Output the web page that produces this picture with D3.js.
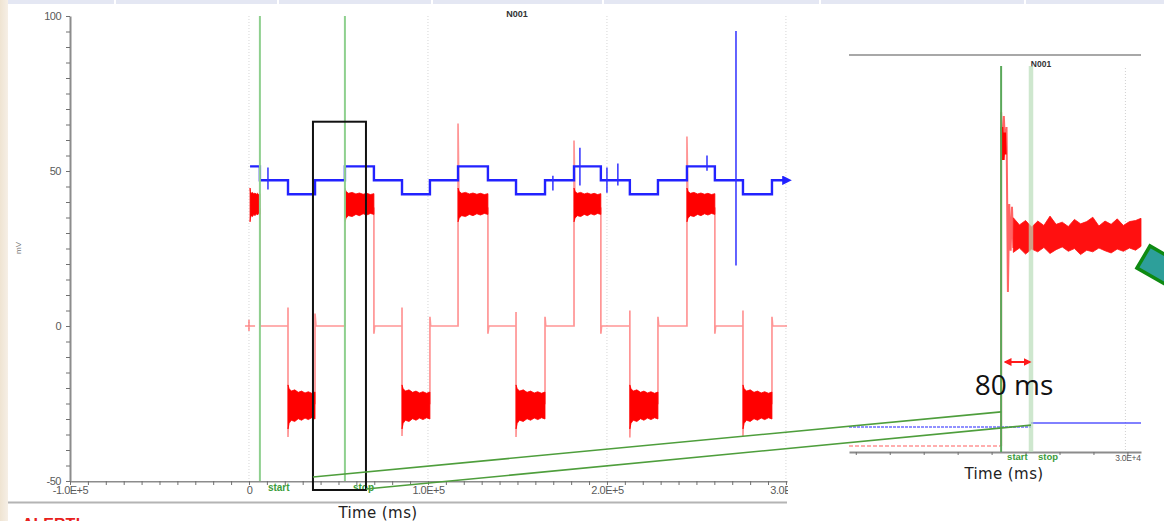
<!DOCTYPE html>
<html>
<head>
<meta charset="utf-8">
<script src="https://cdn.jsdelivr.net/npm/d3@7"></script>
<style>
  html, body { margin: 0; padding: 0; background: #fff; }
  svg { display: block; }
</style>
</head>
<body>
<svg id="chart" width="1164" height="521"></svg>
<script>
// ---------------- data ----------------
// main record: time axis (ms) and voltage axis (mV)
const xMinorTicks = d3.range(-100000, 300001, 10000);
const xMajorTicks = [-100000, 0, 100000, 200000, 300000];
const xTickLabels = ["-1.0E+5", "0", "1.0E+5", "2.0E+5", "3.0E+5"];
const yMinorTicks = d3.range(-50, 101, 5);
const yMajorTicks = [-50, 0, 50, 100];
const yTickLabels = ["-50", "0", "50", "100"];

// command channel (blue): step onsets [time ms, mV]
const blueSteps = [
  [600, 51.5], [6100, 47], [21800, 42.5], [36900, 47], [53600, 51.5],
  [69800, 47], [85500, 42.5], [101100, 47], [116800, 51.5], [133500, 47],
  [149200, 42.5], [165400, 47], [181600, 51.5], [196600, 47], [212800, 42.5],
  [228500, 47], [244700, 51.5], [260300, 47], [276000, 42.5], [292200, 47],
  [300600, 47]
];
// short artefacts on the command channel [time ms, low mV, high mV]
const blueSpikes = [
  [10600, 44.0, 51.1], [169800, 43.7, 48.5], [184900, 45.3, 57.5],
  [200000, 43.0, 51.1], [206100, 45.3, 52.4], [255900, 50.1, 55.0],
  [272100, 19.5, 95.2]
];

// response channel (red): transitions with overshoots [time ms, mV]
const redTrace = [
  [6100, 38], [6100, 0], [21800, 0], [21800, 6], [21800, -35.8], [22300, -25],
  [36900, -25], [36900, 4], [37400, 0], [53600, 0], [53600, 44], [54100, 39],
  [69800, 38], [69800, -2.5], [70200, 0], [85500, 0], [85500, 6], [85500, -35.5], [86000, -25],
  [101100, -25], [101100, 3], [101500, 0], [116800, 0], [116800, 65.3], [117300, 40],
  [133500, 38], [133500, -2.5], [134000, 0], [149200, 0], [149200, 4.5], [149200, -35.8], [149700, -25],
  [165400, -25], [165400, 3], [165800, 0], [181600, 0], [181600, 59.8], [182100, 40],
  [196600, 38], [196600, -2.5], [197000, 0], [212800, 0], [212800, 5], [212800, -36], [213300, -25],
  [228500, -25], [228500, 3], [228900, 0], [244700, 0], [244700, 61.1], [245200, 40],
  [260300, 38], [260300, -2.5], [260700, 0], [276000, 0], [276000, 5], [276000, -35.5], [276500, -25],
  [292200, -25], [292200, 3], [292600, 0], [300600, 0]
];
// noisy plateaus [start ms, end ms]
const plusBlocks = [[600, 6100], [53600, 69800], [116800, 133500], [181600, 196600], [244700, 260300]];
const minusBlocks = [[21800, 36900], [85500, 101100], [149200, 165400], [212800, 228500], [276000, 292200]];
// envelope of the noise across a plateau (fraction of plateau, upper mV, lower mV)
const blockFrac = [0, 0.04, 0.12, 0.25, 0.38, 0.5, 0.63, 0.75, 0.88, 1];
const plusHi  = [44.5, 43.4, 42.8, 43.1, 42.6, 42.9, 42.5, 42.8, 42.4, 42.7];
const plusLo  = [33.6, 34.8, 35.6, 35.3, 36.0, 35.6, 36.2, 35.8, 36.3, 36.0];
const minusHi = [-19.0, -20.2, -21.0, -20.6, -21.4, -21.0, -21.6, -21.2, -21.7, -21.3];
const minusLo = [-33.2, -31.4, -30.4, -30.8, -29.9, -30.4, -29.7, -30.2, -29.6, -30.0];

// cursors
const cursors = [{ t: 6100, label: "start" }, { t: 53600, label: "stop" }];
// zoom window drawn on the main record [t0, t1, vTop, vBottom]
const zoomWindow = [35750, 65360, 65.9, -52.9];

// zoomed record
const insetTicks = d3.range(-10000, 30001, 5000);
const insetCursors = [{ t: 11400, label: "start" }, { t: 15800, label: "stop" }];
const insetRedBefore = [[-11000, 0], [11400, 0]];
const insetRedOnset = [
  [11400, 0], [11400, 60.7], [11600, 52], [11800, 60], [12000, 54], [12200, 58],
  [12400, 28], [12600, 44], [12800, 35.5], [13000, 43.5], [13200, 36]
];
const insetBandT  = [13200, 14100, 15000, 15900, 16800, 17700, 18600, 19500, 20400, 21300, 22200,
                     23100, 24000, 24900, 25800, 26700, 27600, 28500, 29400, 30300, 31200, 32000];
const insetBandHi = [41.5, 40.2, 41.0, 39.8, 40.9, 40.1, 41.8, 40.3, 40.7, 39.9, 41.2,
                     40.4, 40.8, 41.6, 40.0, 40.9, 40.3, 41.3, 40.1, 40.8, 41.0, 41.4];
const insetBandLo = [35.2, 36.0, 34.9, 35.8, 35.3, 36.1, 35.0, 35.7, 36.2, 35.4, 35.9,
                     34.8, 35.6, 35.3, 36.0, 35.5, 35.1, 35.8, 35.4, 36.0, 35.6, 36.3];
const insetBlueBefore = [[-11000, 47], [15800, 47]];
const insetBlueAfter  = [[15800, 51.5], [32000, 51.5]];

// ---------------- drawing ----------------
const svg = d3.select("#chart");
const W = 1164, H = 521;

const defs = svg.append("defs");
defs.append("clipPath").attr("id", "xaxisClip")
  .append("rect").attr("x", 0).attr("y", 0).attr("width", 788).attr("height", H);
defs.append("linearGradient").attr("id", "paper").attr("x1", 0).attr("x2", 1)
  .selectAll("stop").data([["0%", "#efe4d2"], ["100%", "#f6efe6"]]).join("stop")
  .attr("offset", d => d[0]).attr("stop-color", d => d[1]);
defs.append("marker").attr("id", "arrowBlue").attr("viewBox", "0 0 10 10")
  .attr("refX", 5).attr("refY", 5).attr("markerWidth", 4).attr("markerHeight", 4).attr("orient", "auto")
  .append("path").attr("d", "M0,0L10,5L0,10z").attr("fill", "#2020ff");
["Start", "End"].forEach(k => {
  defs.append("marker").attr("id", "arrowRed" + k).attr("viewBox", "0 0 10 10")
    .attr("refX", 8).attr("refY", 5).attr("markerWidth", 4).attr("markerHeight", 4)
    .attr("orient", k === "Start" ? "auto-start-reverse" : "auto")
    .append("path").attr("d", "M0,0L10,5L0,10z").attr("fill", "#ff1a1a");
});

// page frame
svg.append("rect").attr("width", W).attr("height", H).attr("fill", "#fff");
svg.append("rect").attr("x", 0).attr("y", 0).attr("width", 8).attr("height", H).attr("fill", "url(#paper)");
svg.append("rect").attr("x", 8).attr("y", 0).attr("width", W - 8).attr("height", 4).attr("fill", "#e4e7f3");
[115, 278, 432, 603, 820, 1025].forEach(sx =>
  svg.append("line").attr("x1", sx).attr("x2", sx).attr("y1", 0).attr("y2", 4)
    .attr("stroke", "#fff").attr("stroke-width", 2));
svg.append("line").attr("x1", 8).attr("x2", 787).attr("y1", 502.5).attr("y2", 502.5)
  .attr("stroke", "#b4b4b4").attr("stroke-width", 2);
svg.append("text").attr("x", 22).attr("y", 530).attr("fill", "#e8201c")
  .attr("font-family", "Liberation Sans, Arial, sans-serif").attr("font-weight", "bold")
  .attr("font-size", 16).text("ALERT!");

// ---- main record ----
const x = d3.scaleLinear().domain([-100000, 300600]).range([70, 787]);
const y = d3.scaleLinear().domain([-50, 100]).range([481, 16]);
const main = svg.append("g");

// dotted grid
main.append("g").selectAll("line").data(xMajorTicks.filter(t => t >= 0)).join("line")
  .attr("x1", d => x(d)).attr("x2", d => x(d)).attr("y1", y(100)).attr("y2", y(-50))
  .attr("stroke", "#d6d6d6").attr("stroke-width", 1).attr("stroke-dasharray", "1,2");

// axes
const axisFont = "Liberation Sans, Arial, sans-serif";
const yAxis = main.append("g").attr("transform", `translate(${x(-100000)},0)`)
  .call(d3.axisLeft(y).tickValues(yMinorTicks).tickSize(4).tickSizeOuter(0).tickPadding(5)
    .tickFormat(d => { const i = yMajorTicks.indexOf(d); return i >= 0 ? yTickLabels[i] : ""; }));
const xAxis = main.append("g").attr("transform", `translate(0,${y(-50)})`).attr("clip-path", "url(#xaxisClip)")
  .call(d3.axisBottom(x).tickValues(xMinorTicks).tickSize(4).tickSizeOuter(0).tickPadding(1)
    .tickFormat(d => { const i = xMajorTicks.indexOf(d); return i >= 0 ? xTickLabels[i] : ""; }));
[yAxis, xAxis].forEach(a => {
  a.select(".domain").attr("stroke", "#8c8c8c").attr("stroke-width", 2);
  a.selectAll(".tick line").attr("stroke", "#707070").attr("stroke-width", 1);
  a.selectAll(".tick text").attr("fill", "#5a5a5a").attr("font-family", axisFont)
    .attr("font-size", 11).attr("letter-spacing", "-0.5px");
});
main.append("text").attr("transform", "translate(21,248) rotate(-90)")
  .attr("text-anchor", "middle").attr("font-family", axisFont).attr("font-size", 8)
  .attr("fill", "#777").text("mV");
main.append("text").attr("x", 517).attr("y", 17).attr("text-anchor", "middle")
  .attr("font-family", axisFont).attr("font-weight", "bold").attr("font-size", 9)
  .attr("fill", "#333").text("N001");
main.append("text").attr("x", 378).attr("y", 518).attr("text-anchor", "middle")
  .attr("font-family", "DejaVu Sans, sans-serif").attr("font-size", 15).attr("letter-spacing", "0.4px")
  .attr("fill", "#222").text("Time (ms)");

// response channel: thin trace
const line = d3.line().x(d => x(d[0])).y(d => y(d[1]));
main.append("path").attr("d", line(redTrace)).attr("fill", "none")
  .attr("stroke", "#ff5c5c").attr("stroke-opacity", 0.65).attr("stroke-width", 1.7);
// marker at the origin sample
main.append("path")
  .attr("d", line([[-2200, 0], [3400, 0]]) + line([[0, 2], [0, -1.6]]))
  .attr("stroke", "#ff5c5c").attr("stroke-opacity", 0.7).attr("stroke-width", 1.6).attr("fill", "none");

// response channel: noisy plateaus
const blockArea = (b, hi, lo) => d3.area()
  .x((f, i) => x(b[0] + f * (b[1] - b[0])))
  .y0((f, i) => y(lo[i])).y1((f, i) => y(hi[i]))(blockFrac);
main.append("g").selectAll("path").data(plusBlocks).join("path")
  .attr("d", b => blockArea(b, plusHi, plusLo)).attr("fill", "#ff0000")
  .attr("stroke", "#ff0000").attr("stroke-width", 0.8);
main.append("g").selectAll("path").data(minusBlocks).join("path")
  .attr("d", b => blockArea(b, minusHi, minusLo)).attr("fill", "#ff0000")
  .attr("stroke", "#ff0000").attr("stroke-width", 0.8);

// command channel
const stepLine = d3.line().curve(d3.curveStepAfter).x(d => x(d[0])).y(d => y(d[1]));
main.append("path").attr("d", stepLine(blueSteps)).attr("fill", "none")
  .attr("stroke", "#2222ff").attr("stroke-width", 2.4).attr("marker-end", "url(#arrowBlue)");
main.append("g").selectAll("line").data(blueSpikes).join("line")
  .attr("x1", d => x(d[0])).attr("x2", d => x(d[0]))
  .attr("y1", d => y(d[1])).attr("y2", d => y(d[2]))
  .attr("stroke", "#3030ff").attr("stroke-width", 1.5);

// cursors
const curG = main.append("g").selectAll("g").data(cursors).join("g");
curG.append("line").attr("x1", d => x(d.t)).attr("x2", d => x(d.t))
  .attr("y1", y(100)).attr("y2", y(-50))
  .attr("stroke", "#8fd08f").attr("stroke-width", 2);
curG.append("text").attr("x", d => x(d.t) + 8).attr("y", 491)
  .attr("font-family", axisFont).attr("font-weight", "bold").attr("font-size", 10)
  .attr("fill", "#3c9c3c").text(d => d.label);

// zoom window
main.append("rect")
  .attr("x", x(zoomWindow[0])).attr("y", y(zoomWindow[2]))
  .attr("width", x(zoomWindow[1]) - x(zoomWindow[0]))
  .attr("height", y(zoomWindow[3]) - y(zoomWindow[2]))
  .attr("fill", "none").attr("stroke", "#111").attr("stroke-width", 2);

// ---- zoomed record ----
const xi = d3.scaleLinear().domain([-11000, 32000]).range([849, 1141]);
const yiRed = d3.scaleLinear().domain([0, 38]).range([446, 237]);
const yiBlue = d3.scaleLinear().domain([47, 51.5]).range([427, 423]);
const inset = svg.append("g");

inset.append("line").attr("x1", xi(-11000)).attr("x2", xi(32000)).attr("y1", 55).attr("y2", 55)
  .attr("stroke", "#a8a8a8").attr("stroke-width", 2);
inset.append("text").attr("x", 1041).attr("y", 67).attr("text-anchor", "middle")
  .attr("font-family", axisFont).attr("font-weight", "bold").attr("font-size", 8.5)
  .attr("fill", "#333").text("N001");
inset.append("line").attr("x1", xi(30000) - 2).attr("x2", xi(30000) - 2).attr("y1", 68).attr("y2", 452)
  .attr("stroke", "#d0d0d0").attr("stroke-dasharray", "1,2");

const insetAxis = inset.append("g").attr("transform", "translate(0,452)")
  .call(d3.axisBottom(xi).tickValues(insetTicks).tickSize(3).tickSizeOuter(0).tickPadding(0)
    .tickFormat(d => d === 30000 ? "3.0E+4" : ""));
insetAxis.select(".domain").attr("stroke", "#8c8c8c").attr("stroke-width", 2);
insetAxis.selectAll(".tick line").attr("stroke", "#707070");
insetAxis.selectAll(".tick text").attr("fill", "#555").attr("font-family", axisFont)
  .attr("font-size", 8.5).attr("letter-spacing", "-0.3px");

const lineR = d3.line().x(d => xi(d[0])).y(d => yiRed(d[1]));
const lineB = d3.line().x(d => xi(d[0])).y(d => yiBlue(d[1]));
inset.append("path").attr("d", lineR(insetRedBefore)).attr("fill", "none")
  .attr("stroke", "#ff6b6b").attr("stroke-opacity", 0.55).attr("stroke-width", 2)
  .attr("stroke-dasharray", "4,2");
inset.append("path").attr("d", lineB(insetBlueBefore)).attr("fill", "none")
  .attr("stroke", "#3a3aff").attr("stroke-opacity", 0.75).attr("stroke-width", 1.4)
  .attr("stroke-dasharray", "3,1");
inset.append("path").attr("d", lineB(insetBlueAfter)).attr("fill", "none")
  .attr("stroke", "#3a3aff").attr("stroke-opacity", 0.85).attr("stroke-width", 1.4);
inset.append("path").attr("d", lineR(insetRedOnset)).attr("fill", "none")
  .attr("stroke", "#ff3030").attr("stroke-opacity", 0.75).attr("stroke-width", 2);
inset.append("path").attr("d", lineR([[11500, 58], [11700, 52], [11900, 57], [12000, 53]]))
  .attr("fill", "none").attr("stroke", "#ff0000").attr("stroke-width", 3);
inset.append("path")
  .attr("d", d3.area().x((t, i) => xi(t)).y0((t, i) => yiRed(insetBandLo[i])).y1((t, i) => yiRed(insetBandHi[i]))(insetBandT))
  .attr("fill", "#ff1010").attr("stroke", "#ff1010").attr("stroke-width", 0.8);

// zoomed cursors
inset.append("line").attr("x1", xi(insetCursors[0].t)).attr("x2", xi(insetCursors[0].t))
  .attr("y1", 66).attr("y2", 452).attr("stroke", "#5aa85a").attr("stroke-width", 2);
inset.append("line").attr("x1", xi(insetCursors[1].t)).attr("x2", xi(insetCursors[1].t))
  .attr("y1", 66).attr("y2", 452).attr("stroke", "#b9ddb9").attr("stroke-opacity", 0.7).attr("stroke-width", 4.5);
inset.selectAll("text.cur").data(insetCursors).join("text").attr("class", "cur")
  .attr("x", (d, i) => xi(d.t) + (i === 0 ? 6 : 7)).attr("y", 460)
  .attr("font-family", axisFont).attr("font-weight", "bold").attr("font-size", 9.5)
  .attr("fill", "#3c9c3c").text(d => d.label);
inset.append("text").attr("x", 1004).attr("y", 479).attr("text-anchor", "middle")
  .attr("font-family", "DejaVu Sans, sans-serif").attr("font-size", 15).attr("letter-spacing", "0.4px")
  .attr("fill", "#222").text("Time (ms)");

// cursor interval annotation
inset.append("line")
  .attr("x1", xi(insetCursors[0].t) + 4).attr("x2", xi(insetCursors[1].t) - 1)
  .attr("y1", 362).attr("y2", 362).attr("stroke", "#ff1a1a").attr("stroke-width", 2)
  .attr("marker-start", "url(#arrowRedStart)").attr("marker-end", "url(#arrowRedEnd)");
inset.append("text").attr("x", 1014).attr("y", 395).attr("text-anchor", "middle")
  .attr("font-family", "Open Sans, sans-serif").attr("font-size", 28).attr("fill", "#111")
  .text("80 ms");

// links from the zoom window to the zoomed record
const links = [
  [[zoomWindow[0], -48.7], [insetCursors[0].t, 6.2]],
  [[zoomWindow[1], -52.6], [insetCursors[1].t, 3.8]]
];
svg.append("g").selectAll("line").data(links).join("line")
  .attr("x1", d => x(d[0][0])).attr("y1", d => y(d[0][1]))
  .attr("x2", d => xi(d[1][0])).attr("y2", d => yiRed(d[1][1]))
  .attr("stroke", "#4e9e3c").attr("stroke-width", 1.6);

// callout shape at the right edge
svg.append("path").attr("d", "M1137,268L1150,246L1192,270L1179,292Z")
  .attr("fill", "#2d9f9a").attr("stroke", "#0e8a12").attr("stroke-width", 3.5);
</script>
</body>
</html>
